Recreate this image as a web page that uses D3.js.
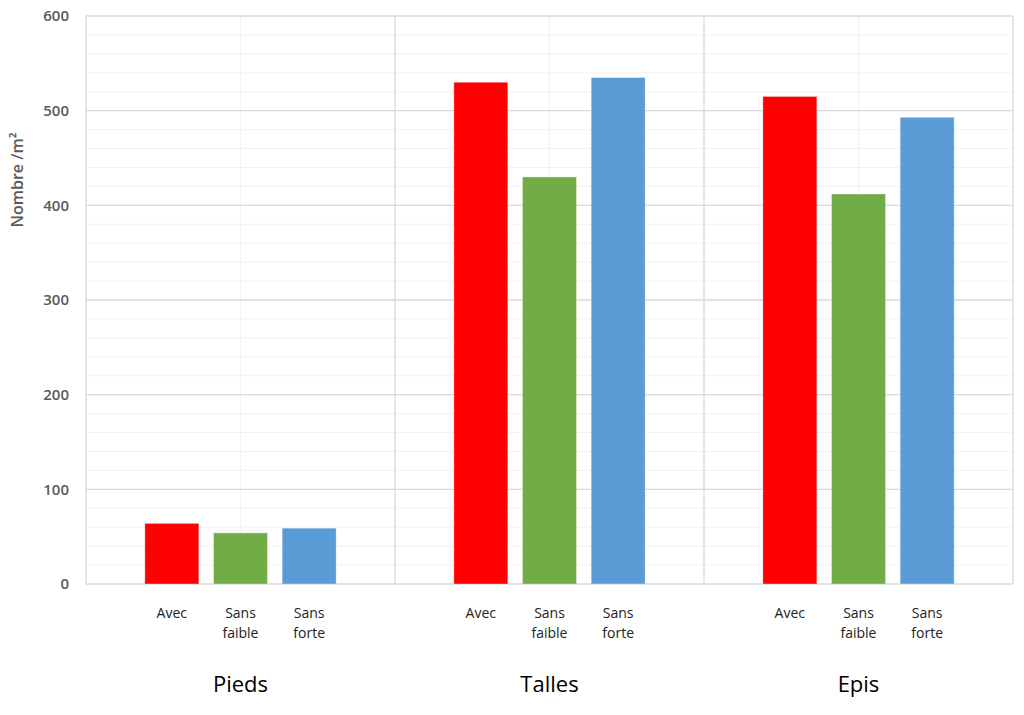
<!DOCTYPE html>
<html><head><meta charset="utf-8">
<script src="https://cdn.jsdelivr.net/npm/d3@7"></script>
<style>body{margin:0;background:#fff;font-family:"Open Sans",sans-serif}</style>
</head><body><svg id="c" width="1024" height="715"></svg>
<script>
const groups = ["Pieds", "Talles", "Epis"];
const subs = ["Avec", "Sans faible", "Sans forte"];
const subLines = [["Avec"], ["Sans", "faible"], ["Sans", "forte"]];
const colors = ["#ff0000", "#70ad47", "#5b9bd5"];
const piedsVals = [64, 54, 59];
const tallesVals = [530, 430, 535];
const episVals = [515, 412, 493];
const yTicks = [0, 100, 200, 300, 400, 500, 600];
const seriesByGroup = [piedsVals, tallesVals, episVals];

const data = [];
groups.forEach((g, gi) => subs.forEach((s, si) => data.push({g, s, si, v: seriesByGroup[gi][si]})));

const svg = d3.select("#c");
const L = 86, R = 1013, T = 16, B = 584;
const x0 = d3.scaleBand().domain(groups).range([L, R]).padding(0);
const x1 = d3.scaleBand().domain(subs).range([0, x0.bandwidth()]).paddingInner(0.214).paddingOuter(0.857);
const y = d3.scaleLinear().domain([0, 600]).range([B, T]);

// minor gridlines
svg.append("g").selectAll("line").data(d3.range(0, 601, 20).filter(v => v % 100 !== 0)).join("line")
  .attr("x1", L).attr("x2", R).attr("y1", d => y(d)).attr("y2", d => y(d))
  .attr("stroke", "#f2f2f2").attr("stroke-width", 1);
// vertical minor at group centers
svg.append("g").selectAll("line").data(groups).join("line")
  .attr("x1", d => x0(d) + x0.bandwidth() / 2).attr("x2", d => x0(d) + x0.bandwidth() / 2)
  .attr("y1", T).attr("y2", B).attr("stroke", "#f2f2f2");
// major gridlines
svg.append("g").selectAll("line").data(yTicks).join("line")
  .attr("x1", L).attr("x2", R).attr("y1", d => y(d)).attr("y2", d => y(d))
  .attr("stroke", "#d9d9d9").attr("stroke-width", 1.3);
// group separators
svg.append("g").selectAll("line").data([...groups.map(g => x0(g)), R]).join("line")
  .attr("x1", d => d).attr("x2", d => d).attr("y1", T).attr("y2", B)
  .attr("stroke", "#d9d9d9").attr("stroke-width", 1.3);

// bars
svg.append("g").selectAll("rect").data(data).join("rect")
  .attr("x", d => x0(d.g) + x1(d.s))
  .attr("width", x1.bandwidth())
  .attr("y", d => y(d.v))
  .attr("height", d => y(0) - y(d.v))
  .attr("fill", d => colors[d.si])
  .attr("stroke", "#ffffff").attr("stroke-opacity", 0.35).attr("stroke-width", 1);

// y axis labels
svg.append("g").selectAll("text").data(yTicks).join("text")
  .attr("x", 69).attr("y", d => y(d)).attr("dy", "0.35em")
  .attr("text-anchor", "end").attr("fill", "#595959")
  .attr("font-size", 15).attr("font-weight", 600).text(d => d);

svg.append("text").attr("transform", "translate(23,180) rotate(-90)")
  .attr("text-anchor", "middle").attr("fill", "#595959").attr("font-size", 16).attr("font-weight", 600)
  .text("Nombre /m²");

// sub labels
const sl = svg.append("g").selectAll("text").data(data).join("text")
  .attr("text-anchor", "middle").attr("fill", "#222").attr("font-size", 14);
sl.each(function(d) {
  const cx = x0(d.g) + x1(d.s) + x1.bandwidth() / 2;
  d3.select(this).selectAll("tspan").data(subLines[d.si]).join("tspan")
    .attr("x", cx).attr("y", (t, i) => 618 + i * 20).text(t => t);
});

// group labels
svg.append("g").selectAll("text").data(groups).join("text")
  .attr("x", d => x0(d) + x0.bandwidth() / 2).attr("y", 692)
  .attr("text-anchor", "middle").attr("fill", "#000").attr("font-size", 22).text(d => d);
</script></body></html>
